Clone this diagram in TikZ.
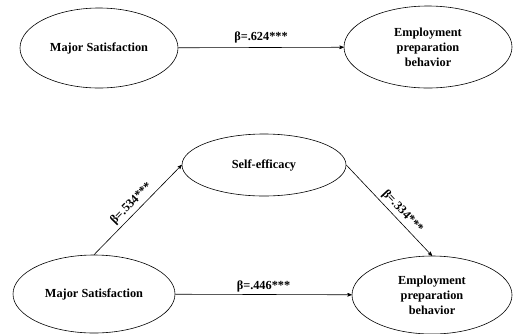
\documentclass[tikz,border=0pt]{standalone}
\usepackage{fontspec}
\setmainfont{Liberation Serif}[BoldFont={Liberation Serif Bold}]
\usepackage{tikz}
\usetikzlibrary{
  positioning,
  shapes.geometric,
  arrows.meta,
  arrows
}

\begin{document}
\begin{tikzpicture}[x=1pt,y=-1pt,>=stealth',
  latent/.style={ellipse,draw,line width=0.6pt,inner sep=0pt,align=center,
    font=\fontsize{12.3}{15}\selectfont\bfseries},
  path/.style={->,line width=0.6pt},
  coef/.style={font=\fontsize{12.3}{15}\selectfont\bfseries,inner sep=2pt}]
            \useasboundingbox (0,0) rectangle (513,333);

            % total effect
            \node[latent,minimum width=158,minimum height=80] (ms1) at (99,48) {Major Satisfaction};
            \node[latent,minimum width=168,minimum height=82] (ep1) at (428,47) {Employment\\preparation\\behavior};
            \draw[path] (ms1) -- node[coef,above=2pt] {β=.624***} (ep1);

            % mediation model
            \node[latent,minimum width=164,minimum height=62] (se) at (264,165) {Self-efficacy};
            \node[latent,minimum width=162,minimum height=78] (ms2) at (94,294) {Major Satisfaction};
            \node[latent,minimum width=160,minimum height=78] (ep2) at (432,295) {Employment\\preparation\\behavior};

            \draw[path] (ms2.north) -- node[coef,midway,sloped,above=1pt] {β=.534***} (se.west);
            \draw[path] (se.east) -- node[coef,pos=0.58,sloped,above=1pt] {β=.334***} (ep2.north);
            \draw[path] (ms2) -- node[coef,above] {β=.446***} (ep2);
        \end{tikzpicture}
\end{document}
